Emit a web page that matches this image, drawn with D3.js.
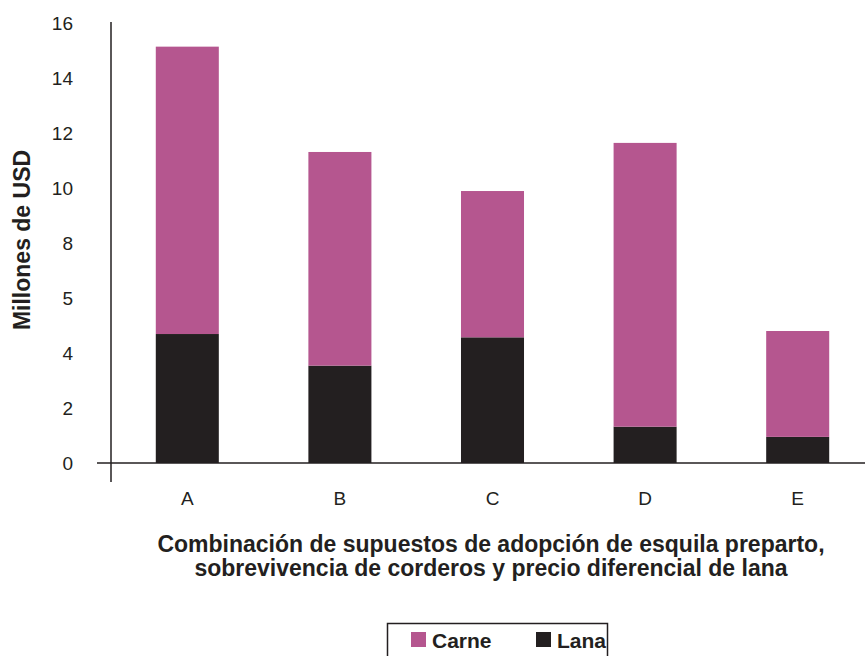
<!DOCTYPE html>
<html>
<head>
<meta charset="utf-8">
<script src="https://cdn.jsdelivr.net/npm/d3@7"></script>
<style>
  body { margin: 0; background: #fff; }
  svg { display: block; }
  text { font-family: "Liberation Sans", Arial, sans-serif; fill: #231F20; }
</style>
</head>
<body>
<svg id="chart" width="865" height="656"></svg>
<script>
const categories = ["A", "B", "C", "D", "E"];
const lana = [4.69, 3.54, 4.57, 1.32, 0.95];
const carne = [10.45, 7.77, 5.32, 10.32, 3.85];
const tickValues = [0, 2, 4, 6, 8, 10, 12, 14, 16];
const tickLabels = ["0", "2", "4", "5", "8", "10", "12", "14", "16"];
const seriesNames = ["Carne", "Lana"];
const colors = { Carne: "#B5568F", Lana: "#231F20" };

const svg = d3.select("#chart");

const x = d3.scaleBand().domain(categories).range([111, 874])
  .paddingInner(0.587).paddingOuter(0.2935);
const y = d3.scaleLinear().domain([0, 16]).range([463, 23]);

const data = categories.map((c, i) => ({ cat: c, Lana: lana[i], Carne: carne[i] }));
const stack = d3.stack().keys(["Lana", "Carne"]);
const series = stack(data);

svg.append("g").selectAll("g").data(series).join("g")
  .attr("fill", d => colors[d.key])
  .selectAll("rect").data(d => d).join("rect")
  .attr("x", d => x(d.data.cat))
  .attr("width", x.bandwidth())
  .attr("y", d => y(d[1]))
  .attr("height", d => y(d[0]) - y(d[1]));

// axes lines
svg.append("line").attr("x1", 97).attr("x2", 865).attr("y1", y(0)).attr("y2", y(0))
  .attr("stroke", "#231F20").attr("stroke-width", 1.3);
svg.append("line").attr("x1", 111).attr("x2", 111).attr("y1", 22).attr("y2", 482)
  .attr("stroke", "#231F20").attr("stroke-width", 1.5);

// y tick labels
svg.append("g").selectAll("text").data(tickValues).join("text")
  .attr("x", 73).attr("y", d => y(d)).attr("dy", "0.35em")
  .attr("text-anchor", "end").attr("font-size", 19)
  .text((d, i) => tickLabels[i]);

// x labels
svg.append("g").selectAll("text").data(categories).join("text")
  .attr("x", d => x(d) + x.bandwidth() / 2).attr("y", 498).attr("dy", "0.35em")
  .attr("text-anchor", "middle").attr("font-size", 19)
  .text(d => d);

// y title
svg.append("text").attr("transform", "translate(30,240) rotate(-90)")
  .attr("text-anchor", "middle").attr("font-size", 23).attr("font-weight", "bold")
  .text("Millones de USD");

// x title
svg.append("text").attr("x", 491).attr("y", 552).attr("text-anchor", "middle")
  .attr("font-size", 23).attr("font-weight", "bold")
  .text("Combinación de supuestos de adopción de esquila preparto,");
svg.append("text").attr("x", 491).attr("y", 576).attr("text-anchor", "middle")
  .attr("font-size", 23).attr("font-weight", "bold")
  .text("sobrevivencia de corderos y precio diferencial de lana");

// legend
svg.append("rect").attr("x", 387.5).attr("y", 623.5).attr("width", 220).attr("height", 40)
  .attr("fill", "none").attr("stroke", "#231F20").attr("stroke-width", 1.5);
const legendX = [411, 536];
const lg = svg.append("g").selectAll("g").data(seriesNames).join("g")
  .attr("transform", (d, i) => `translate(${legendX[i]},632)`);
lg.append("rect").attr("width", 15).attr("height", 15).attr("fill", d => colors[d]);
lg.append("text").attr("x", 21).attr("y", 9).attr("dy", "0.35em")
  .attr("font-size", 21).attr("font-weight", "bold").text(d => d);
</script>
</body>
</html>
